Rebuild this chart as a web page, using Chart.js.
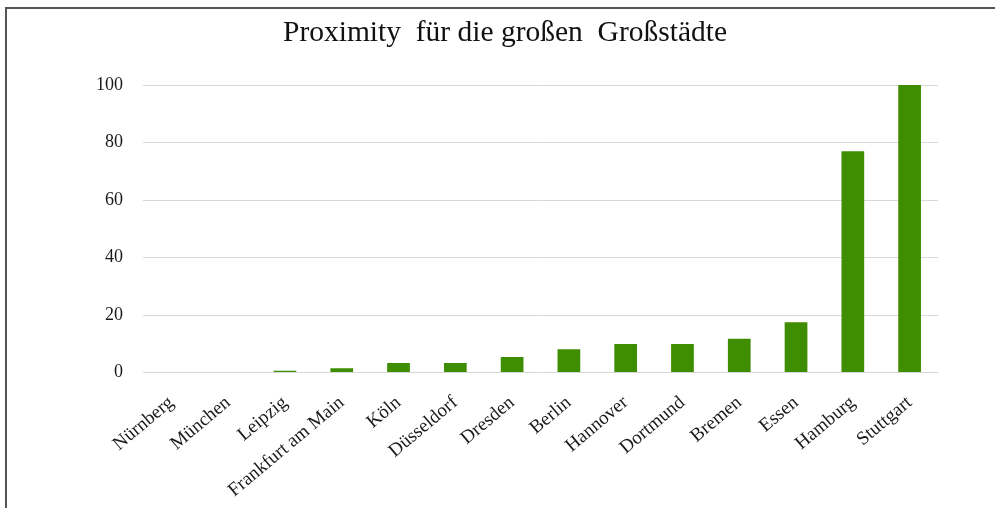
<!DOCTYPE html>
<html>
<head>
<meta charset="utf-8">
<script src="https://cdn.jsdelivr.net/npm/chart.js@4"></script>
<style>
  html, body { margin: 0; padding: 0; background: #fff; }
  #wrap { position: relative; width: 995px; height: 508px; }
  #frame { position: absolute; left: 5px; top: 7px; right: 0; bottom: 0;
           border-top: 2px solid #555; border-left: 2px solid #555; pointer-events: none; }
  canvas { position: absolute; left: 0; top: 0; }
</style>
</head>
<body>
<div id="wrap">
  <canvas id="c" width="995" height="508"></canvas>
  <div id="frame"></div>
</div>
<script>
// Cities, ordered by proximity score
const cities = ['Nürnberg', 'München', 'Leipzig', 'Frankfurt am Main', 'Köln', 'Düsseldorf',
                'Dresden', 'Berlin', 'Hannover', 'Dortmund', 'Bremen', 'Essen', 'Hamburg', 'Stuttgart'];
const proximity = [0, 0, 0.6, 1.5, 3.3, 3.3, 5.4, 8.1, 9.9, 9.9, 11.7, 17.5, 77, 100];
const yTicks = [0, 20, 40, 60, 80, 100];

const serif = 'Liberation Serif';

new Chart(document.getElementById('c'), {
  type: 'bar',
  data: {
    labels: cities,
    datasets: [{
      data: proximity,
      backgroundColor: '#3f8e02',
      borderWidth: 0,
      categoryPercentage: 1,
      barPercentage: 0.4
    }]
  },
  options: {
    responsive: false,
    animation: false,
    layout: { padding: { left: 72, right: 57, top: 0, bottom: 0 } },
    plugins: {
      legend: { display: false },
      tooltip: { enabled: false },
      title: {
        display: true,
        text: 'Proximity  für die großen  Großstädte',
        color: '#111',
        font: { family: serif, size: 29.5, weight: 'normal', lineHeight: 1.2 },
        padding: { top: 16, bottom: 33.6 }
      }
    },
    scales: {
      x: {
        grid: { display: false },
        border: { display: false },
        ticks: {
          color: '#1a1a1a',
          font: { family: serif, size: 19 },
          minRotation: 40,
          maxRotation: 40,
          autoSkip: false,
          padding: 11
        },
        afterFit: (s) => { s.height = 135.5; }
      },
      y: {
        min: yTicks[0],
        max: yTicks[yTicks.length - 1],
        grid: { color: '#d9d9d9', lineWidth: 1, drawTicks: false },
        border: { display: false },
        afterBuildTicks: (s) => { s.ticks = yTicks.map(v => ({ value: v })); },
        ticks: {
          color: '#1a1a1a',
          font: { family: serif, size: 18 },
          padding: 20
        },
        afterFit: (s) => { s.width = 71; }
      }
    }
  }
});
</script>
</body>
</html>
